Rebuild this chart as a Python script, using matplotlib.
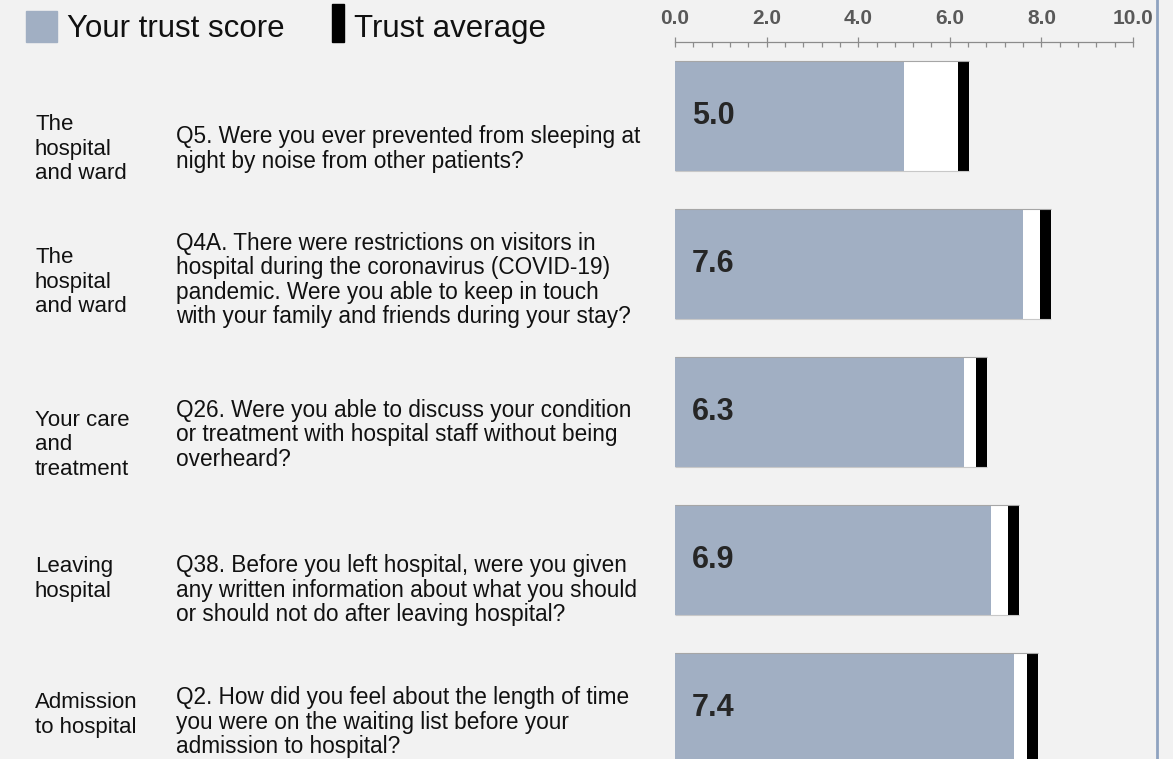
import matplotlib
matplotlib.use("Agg")
import matplotlib.pyplot as plt
from matplotlib.ticker import MultipleLocator
from matplotlib.patches import Rectangle
from matplotlib.lines import Line2D

plt.rcParams["font.family"] = ["Liberation Sans", "DejaVu Sans"]

# ---- data ----
sections = ["The\nhospital\nand ward", "The\nhospital\nand ward", "Your care\nand\ntreatment",
            "Leaving\nhospital", "Admission\nto hospital"]
questions = [
    "Q5. Were you ever prevented from sleeping at\nnight by noise from other patients?",
    "Q4A. There were restrictions on visitors in\nhospital during the coronavirus (COVID-19)\n"
    "pandemic. Were you able to keep in touch\nwith your family and friends during your stay?",
    "Q26. Were you able to discuss your condition\nor treatment with hospital staff without being\noverheard?",
    "Q38. Before you left hospital, were you given\nany written information about what you should\n"
    "or should not do after leaving hospital?",
    "Q2. How did you feel about the length of time\nyou were on the waiting list before your\n"
    "admission to hospital?",
]
scores = [5.0, 7.6, 6.3, 6.9, 7.4]
trust_avg = [6.3, 8.1, 6.7, 7.4, 7.8]

# ---- layout (pixels) ----
BG = "#f2f2f2"
BLUE = "#a1afc3"
W_PX, H_PX = 1173, 759
X0, X10 = 675, 1133          # scale 0 and 10
ROW0, STEP, BAR_H = 116, 148, 110
cat_y = [149, 282, 445, 579, 715]
q_y = [149, 280, 435, 590, 722]


def fx(px):
    return px / W_PX


def fy(py):
    return 1 - py / H_PX


fig = plt.figure(figsize=(W_PX / 100, H_PX / 100), dpi=100, facecolor=BG)

# bars
ax = fig.add_axes([fx(X0), 0, fx(X10) - fx(X0), 1])
ax.set_xlim(0, 10)
ax.set_ylim((H_PX - ROW0) / STEP, -ROW0 / STEP)
ax.axis("off")

bh = BAR_H / STEP
mw = 0.24
for i, (s, a) in enumerate(zip(scores, trust_avg)):
    end = a + mw / 2
    ax.barh(i, end, height=bh, color="white", zorder=1)
    ax.barh(i, s, height=bh, color=BLUE, zorder=2)
    ax.barh(i, mw, left=a - mw / 2, height=bh, color="black", zorder=3)
    ax.hlines([i - bh / 2], 0, end, color="#a6a6a6", lw=0.8, zorder=4)
    ax.hlines([i + bh / 2], 0, end, color="#c8c8c8", lw=0.8, zorder=4)
    ax.text(0.365, i, f"{s:.1f}", ha="left", va="center", fontsize=22,
            weight="bold", color="#262626", zorder=5)

# scale on top
axs = fig.add_axes([fx(X0), fy(42), fx(X10) - fx(X0), 1e-4])
axs.set_xlim(0, 10)
axs.set_facecolor("none")
for k in ["left", "right", "bottom"]:
    axs.spines[k].set_visible(False)
axs.spines["top"].set_color("#8c8c8c")
axs.spines["top"].set_linewidth(0.9)
axs.set_yticks([])
axs.xaxis.set_ticks_position("top")
axs.xaxis.set_major_locator(MultipleLocator(2))
axs.xaxis.set_minor_locator(MultipleLocator(0.4))
axs.xaxis.set_major_formatter(lambda v, p: f"{v:.1f}")
axs.tick_params(axis="x", which="major", direction="inout", length=7, width=0.9,
                color="#8c8c8c", pad=6.5, labelsize=15, labelcolor="#595959")
axs.tick_params(axis="x", which="minor", direction="in", length=3.6, width=0.9, color="#8c8c8c")
for t in axs.get_xticklabels():
    t.set_fontweight("bold")

# row texts
for i in range(len(sections)):
    fig.text(fx(35), fy(cat_y[i]), sections[i], ha="left", va="center",
             fontsize=16, linespacing=1.24, color="#111111")
    fig.text(fx(176), fy(q_y[i]), questions[i], ha="left", va="center",
             fontsize=16.3, linespacing=1.06, color="#111111")

# legend
fig.add_artist(Rectangle((fx(26), fy(41.7)), fx(30.7), 30.7 / H_PX, color=BLUE,
                         transform=fig.transFigure))
fig.text(fx(66.7), fy(36.7), "Your trust score", ha="left", va="baseline", fontsize=22.5,
         color="#111111")
fig.add_artist(Rectangle((fx(331.7), fy(41.7)), fx(12.3), 37.7 / H_PX, color="black",
                         transform=fig.transFigure))
fig.text(fx(354), fy(36.7), "Trust average", ha="left", va="baseline", fontsize=22.5,
         color="#111111")

# right border
fig.add_artist(Line2D([fx(1157)] * 2, [0, 1], color="#8fa3c0", lw=2,
                      transform=fig.transFigure))

fig.savefig("out.png", dpi=100, facecolor=BG)
